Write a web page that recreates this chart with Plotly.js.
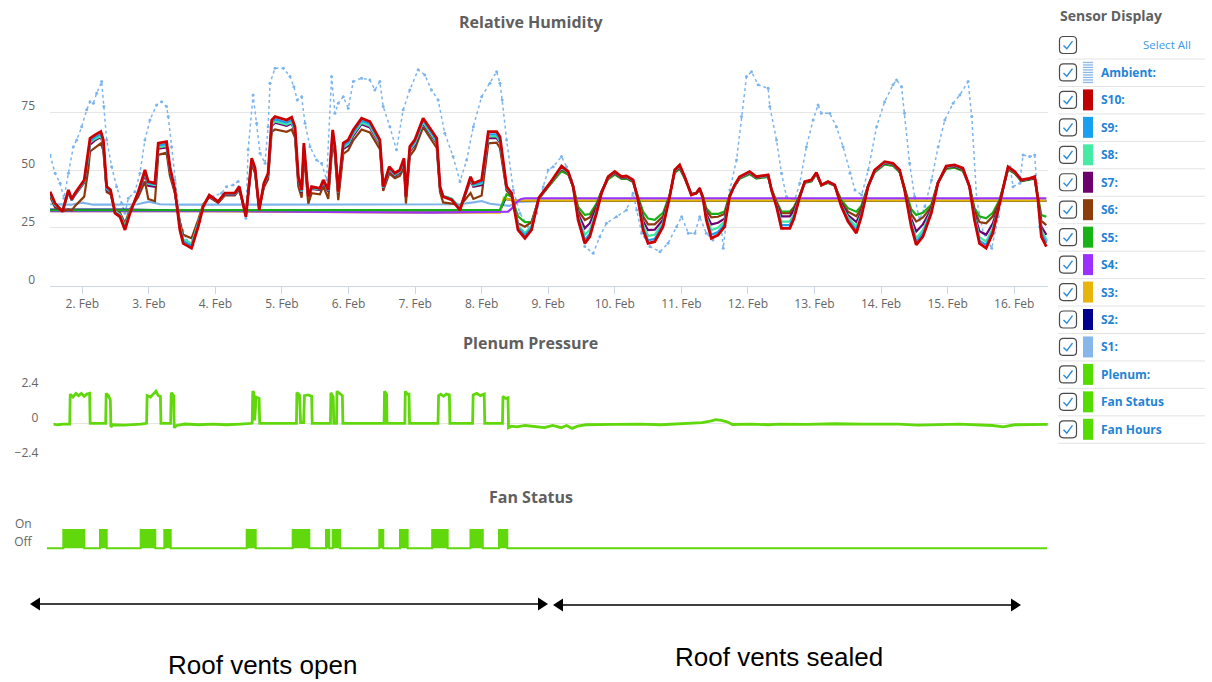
<!DOCTYPE html>
<html>
<head>
<meta charset="utf-8">
<script src="https://cdn.plot.ly/plotly-3.0.1.min.js"></script>
<style>
  html, body { margin: 0; padding: 0; background: #ffffff; }
  #chart { width: 1212px; height: 682px; }
</style>
</head>
<body>
<div id="chart"></div>
<script>
// ---------------- DATA (hours since 1 Feb 00:00) ----------------
const rhHours = [
  12.4, 14.2, 16.9, 19.0, 20.2, 21.4, 24.7, 26.2, 26.8, 28.6,
  30.7, 31.6, 32.8, 34.2, 35.8, 37.6, 39.4, 41.2, 44.2, 46.6,
  47.8, 50.2, 51.4, 54.4, 55.6, 57.4, 59.2, 60.4, 63.4, 65.8,
  67.6, 69.8, 73.0, 75.4, 79.0, 80.6, 83.0, 85.1, 86.3, 87.8,
  89.5, 91.0, 92.3, 93.5, 97.7, 99.5, 100.7, 101.9, 103.1, 103.9,
  105.5, 106.7, 109.7, 110.9, 112.7, 114.3, 115.1, 116.3, 118.1, 119.9,
  121.7, 124.7, 127.7, 131.3, 132.5, 134.7, 136.7, 138.5, 140.0, 140.7,
  142.1, 143.9, 146.9, 151.8, 153.0, 154.1, 157.2, 160.2, 164.0, 165.0,
  168.0, 170.4, 173.4, 174.6, 177.0, 178.8, 181.1, 183.6, 186.0, 188.6,
  192.6, 196.8, 199.2, 201.0, 202.8, 205.2, 207.0, 209.4, 211.2, 213.6,
  216.0, 218.4, 220.2, 222.6, 224.4, 226.2, 228.0, 230.4, 233.4, 235.8,
  237.6, 239.4, 241.2, 243.6, 245.4, 246.6, 247.8, 249.0, 250.8, 253.2,
  255.6, 257.4, 259.2, 261.0, 264.6, 267.0, 271.3, 272.5, 274.3, 276.1,
  279.1, 280.6, 282.7, 284.5, 286.9, 288.7, 290.5, 292.9, 295.3, 297.7,
  300.1, 303.1, 304.9, 307.3, 309.7, 313.3, 316.3, 318.7, 320.5, 322.9,
  324.7, 327.1, 330.1, 332.5, 335.5, 338.5, 341.5, 343.9, 345.7, 347.5,
  349.9, 352.3, 354.7, 357.8, 360.2, 362.6, 365.6, 367.4, 368.6, 369.8,
  371.6
];

const s10 = [
  40.6, 35.6, 32, 41.4, 37.4, 40, 45.7, 57.2, 63.7, 65.2,
  66.6, 63, 42.8, 41.4, 31.3, 29.8, 24.1, 31.3, 40.6, 50,
  45, 44.3, 61.6, 62.3, 51.4, 41.4, 24.1, 18.3, 16.2, 25.5,
  34.2, 39.2, 36.3, 40, 40, 42.8, 29.8, 55.1, 50.8, 32.7,
  44.3, 48.6, 71.6, 73.1, 71.6, 72.8, 68.7, 47.1, 41.4, 61.6,
  38.5, 42.8, 42.1, 45.7, 41.4, 67.3, 60.1, 40.6, 61.6, 63,
  67.3, 72.4, 70.9, 63, 42.8, 51.4, 48.6, 50, 55.1, 38.5,
  60.1, 63, 72.4, 63.7, 42.8, 38.5, 37.1, 32.7, 47.1, 44.3,
  45.7, 66.6, 66.6, 64.4, 42.8, 40, 24.1, 20.5, 24.1, 38,
  44.3, 51.7, 49.3, 42.8, 28.4, 18.3, 21.2, 31.3, 40, 47.1,
  49.3, 47.1, 47.4, 45.7, 37, 24.1, 18.3, 19, 25.5, 38.5,
  50, 52.2, 47.1, 39.2, 40, 42.1, 37.8, 28.4, 20.5, 21.9,
  25.5, 38.5, 43.5, 47.1, 49.3, 47.1, 47.9, 41.4, 34.2, 24.8,
  24.8, 29, 38.5, 45, 45.7, 48.9, 43.5, 45, 43.5, 34.2,
  27.7, 22.7, 29.8, 42.8, 50, 53.6, 52.9, 50, 41.4, 25.5,
  17.6, 21.2, 31.3, 44.3, 51.7, 52.2, 50.8, 42.8, 28.4, 18.3,
  16.2, 22.7, 34.9, 51.4, 49.3, 45.7, 46.4, 47.1, 37, 21.2,
  16.9
];

const s9 = [
  40.2, 35.2, 32.4, 41, 37.2, 39.8, 45.3, 56.2, 62.5, 64.2,
  65.5, 62, 42.2, 41, 31.8, 30.3, 25, 31.8, 40.3, 49.4,
  44.5, 43.9, 60.6, 61.2, 50.8, 41.2, 25, 19.2, 17.2, 26.3,
  34.5, 39, 36.3, 39.8, 39.8, 42.5, 30.3, 54.6, 50.4, 33,
  44, 48.2, 70.5, 71.9, 70.5, 71.6, 67.6, 46.5, 41, 60.5,
  38.6, 42.5, 41.9, 45.3, 41.2, 66.3, 59.3, 40.5, 60.6, 62,
  66.3, 71.3, 69.9, 62.2, 42.6, 50.8, 48.2, 49.6, 54.4, 38.7,
  59.3, 62.2, 71.4, 62.8, 42.5, 38.6, 37.4, 33.3, 46.5, 43.8,
  44.8, 65.4, 65.4, 63.2, 42.4, 39.8, 25.2, 21.8, 25, 38,
  44.2, 51.4, 49.1, 42.7, 29.2, 19.8, 22.5, 31.8, 40, 47,
  49.1, 47, 47.2, 45.5, 37.2, 25, 19.6, 20.3, 26.3, 38.6,
  49.8, 51.9, 47, 39.3, 40, 42, 37.9, 29, 22, 23.2,
  26.5, 38.6, 43.4, 46.9, 49.1, 47, 47.7, 41.4, 34.6, 26.2,
  26.2, 30, 38.6, 44.9, 45.6, 48.8, 43.5, 44.9, 43.5, 34.4,
  28.5, 24, 30.5, 42.8, 49.8, 53.4, 52.7, 49.8, 41.5, 26.3,
  19, 22.5, 31.8, 44.3, 51.5, 52, 50.6, 42.8, 29.2, 19.5,
  17.6, 23.8, 35, 51.2, 49.2, 45.6, 46.3, 46.9, 37.2, 22.8,
  18.5
];

const s8 = [
  39.8, 34.8, 32.8, 40.6, 37, 39.5, 45, 55.5, 61.8, 63.4,
  64.7, 61.2, 41.8, 40.7, 32.3, 30.8, 25.8, 32.3, 40, 48.8,
  44, 43.5, 59.8, 60.4, 50.2, 41, 25.8, 20, 18.2, 27,
  34.8, 38.8, 36.2, 39.6, 39.6, 42.2, 30.7, 54.2, 50, 33.4,
  43.7, 47.8, 69.6, 71, 69.6, 70.6, 66.7, 46, 40.6, 59.7,
  38.8, 42.2, 41.7, 45, 41, 65.5, 58.7, 40.3, 59.8, 61.2,
  65.5, 70.4, 69, 61.5, 42.4, 50.4, 47.9, 49.2, 53.8, 38.9,
  58.6, 61.5, 70.6, 62, 42.2, 38.8, 37.7, 33.8, 46, 43.3,
  44.2, 64.5, 64.5, 62.4, 42.1, 39.6, 26, 22.8, 25.8, 38,
  44.1, 51, 48.8, 42.6, 30, 21.9, 24.2, 32.5, 40.2, 46.9,
  48.9, 46.8, 47, 45.3, 37.4, 26.5, 21.5, 22, 27.3, 38.7,
  49.6, 51.6, 46.9, 39.4, 40, 41.9, 38, 30, 24, 25,
  27.8, 38.7, 43.3, 46.7, 48.9, 46.8, 47.5, 41.4, 35, 27.7,
  27.7, 31, 38.7, 44.8, 45.5, 48.7, 43.5, 44.8, 43.4, 34.8,
  29.5, 25.5, 31, 42.8, 49.6, 53.2, 52.5, 49.6, 41.6, 27.5,
  20.5, 24, 32.3, 44.3, 51.3, 51.8, 50.4, 42.8, 30, 21,
  19, 25, 35.2, 51, 49, 45.5, 46.2, 46.8, 37.4, 24,
  20
];

const s7 = [
  39.5, 34.5, 32.6, 40.2, 36.8, 39.2, 44.6, 54.8, 61, 62.8,
  64.2, 60.6, 41.4, 40.3, 32, 30.5, 25.5, 32, 39.6, 48,
  43.2, 42.8, 59.2, 59.8, 49.5, 40.6, 25.5, 19.6, 17.8, 26.6,
  34.6, 38.6, 36, 39.4, 39.4, 42, 30.5, 53.8, 49.6, 33.2,
  43.4, 47.4, 69, 70.4, 69.1, 70.1, 66.2, 45.5, 40.2, 59,
  38.6, 41.8, 41.3, 44.5, 40.6, 64.8, 58, 40, 59, 60.5,
  64.8, 69.8, 68.4, 61, 42.1, 50, 47.5, 48.8, 53.2, 38.6,
  58, 60.9, 70, 61.5, 41.9, 38.6, 37.5, 33.5, 45.4, 42.8,
  43.5, 63.8, 63.8, 61.8, 41.8, 39.3, 25.6, 22.3, 25.3, 37.8,
  44, 50.8, 48.6, 42.6, 31, 24.8, 27, 33.5, 40.4, 46.8,
  48.7, 46.6, 46.8, 45.1, 37.6, 28, 24, 24.2, 28.5, 38.8,
  49.4, 51.4, 46.8, 39.5, 40, 41.8, 38.2, 31, 26.5, 27.2,
  29, 38.8, 43.2, 46.6, 48.8, 46.7, 47.4, 41.5, 35.5, 30,
  30, 32.5, 38.8, 44.7, 45.4, 48.6, 43.5, 44.7, 43.4, 35.5,
  30.5, 27.5, 32, 42.9, 49.5, 53, 52.4, 49.5, 41.8, 29,
  23.4, 26.5, 33, 44.4, 51.1, 51.6, 50.2, 42.9, 31, 23.5,
  22, 27, 35.5, 50.8, 48.9, 45.4, 46.1, 46.7, 37.6, 25.5,
  22
];

const s6 = [
  38.5, 33.8, 32.3, 33, 32.5, 34.5, 38.5, 50.5, 58, 59.8,
  61.5, 58.5, 40.5, 39.5, 32.5, 31.5, 27, 33, 38.5, 45,
  37.5, 36.5, 56.5, 57.5, 47.5, 40, 27.5, 22, 20.5, 28.5,
  35.2, 38.2, 35.8, 39, 39, 41.5, 31.2, 52.5, 48.5, 33.8,
  42.5, 46, 66.5, 67.5, 66.5, 67.5, 64, 43, 38, 56.5,
  35.5, 40, 39.5, 43, 37.5, 62.5, 56, 37, 57, 58.5,
  62.8, 67.5, 66.2, 59, 41, 48.5, 46.5, 47.5, 51, 35.5,
  56, 59, 68.5, 59.5, 40.5, 36, 35.5, 34.5, 40, 37.5,
  39, 61.5, 61.8, 59.5, 41, 38.8, 27, 25.5, 27.5, 37.6,
  43.8, 50.5, 48.4, 42.8, 32.5, 28.4, 29.5, 34.5, 40.6, 46.6,
  48.5, 46.5, 46.6, 45, 37.9, 30, 26.5, 26.5, 30, 38.9,
  49.2, 51.1, 46.6, 39.6, 40, 41.7, 38.4, 32.5, 29.5, 29.8,
  31, 39, 43.1, 46.5, 48.6, 46.6, 47.2, 41.6, 36, 31.3,
  31.3, 33.5, 39, 44.6, 45.3, 48.5, 43.5, 44.6, 43.3, 36.2,
  32, 30, 33.5, 43, 49.3, 52.8, 52.2, 49.3, 42, 31,
  27.7, 29.5, 34, 44.5, 50.9, 51.4, 50, 43, 32.5, 27.5,
  27, 30, 36.2, 50.6, 48.8, 45.3, 46, 46.5, 38, 28,
  26.2
];

const s5 = [
  32.6, 32.6, 32.6, 32.6, 32.6, 32.6, 32.6, 32.6, 32.6, 32.6,
  32.6, 32.6, 32.6, 32.6, 32.6, 32.6, 32.6, 32.6, 32.6, 32.6,
  32.6, 32.6, 32.6, 32.6, 32.6, 32.6, 32.6, 32.6, 32.6, 32.6,
  32.7, 32.7, 32.7, 32.7, 32.7, 32.7, 32.7, 32.7, 32.7, 32.7,
  32.7, 32.7, 32.7, 32.7, 32.7, 32.7, 32.7, 32.7, 32.7, 32.7,
  32.7, 32.7, 32.7, 32.7, 32.7, 32.7, 32.7, 32.7, 32.7, 32.7,
  32.8, 32.8, 32.8, 32.8, 32.8, 32.8, 32.8, 32.8, 32.8, 32.8,
  32.8, 32.8, 32.8, 32.8, 32.8, 32.8, 32.8, 32.8, 32.8, 32.8,
  32.8, 32.8, 32.8, 32.8, 39.5, 38.5, 30, 27.5, 27.5, 37.5,
  43.5, 49.5, 48, 43, 34, 30.6, 31, 35.5, 40.8, 46,
  48, 46.2, 46.3, 44.8, 38.5, 32, 29, 28.5, 31.5, 39.2,
  48.8, 50.5, 46.3, 39.7, 40, 41.5, 38.6, 33.5, 31, 31,
  32, 39.2, 43, 46.2, 48.2, 46.3, 47, 41.8, 36.5, 32,
  32, 34, 39.2, 44.4, 45, 48.2, 43.4, 44.4, 43.2, 37,
  33.5, 32, 34.5, 43, 49, 52.4, 51.8, 49, 42.3, 33,
  30.6, 31.5, 35, 44.6, 50.5, 51, 49.6, 43.2, 33.5, 30,
  29.1, 31.5, 37, 50.2, 48.5, 45.1, 45.8, 46.3, 38.5, 30.5,
  29.8
];

const s4Hours = [12.4, 80, 150, 174.6, 177.5, 179.0, 180.5, 182.0, 183.5, 250, 371.6];
const s4 = [32.2, 32.2, 31.6, 31.7, 32, 33.5, 36, 37.4, 37.8, 37.8, 37.8];

const s3Hours = [12.4, 60, 150, 174.6, 176.0, 178.0, 181.0, 371.6];
const s3 = [32.2, 32.2, 31.6, 31.6, 38, 37.2, 36.8, 36.8];

const s2Hours = [12.4, 40, 60, 150, 174.6, 176.5, 178.5, 181.0, 371.6];
const s2 = [32.9, 32.9, 32.5, 32.5, 32.4, 37.5, 37, 36.7, 36.7];

const s1Hours = [12.4, 20, 24, 28, 36, 44, 48, 52, 60, 100, 140, 160, 165, 168, 171, 175, 178, 181, 190, 250, 300, 371.6];
const s1 = [35.2, 35, 35.9, 35, 35, 35.2, 36.3, 35.2, 35, 35, 35, 35.2, 36, 36.6, 35.4, 35, 34.5, 36.2, 36.6, 36.6, 36.6, 36.6];

const ambientHours = [
  12.4, 14.2, 16.0, 17.4, 19.0, 20.8, 22.0, 23.8, 25.6, 26.8,
  28.0, 29.2, 31.0, 31.8, 32.8, 34.6, 36.4, 38.2, 39.4, 40.6,
  43.0, 44.8, 46.6, 48.4, 50.8, 52.6, 54.4, 55.0, 56.2, 57.4,
  59.2, 61.6, 64.0, 66.4, 68.8, 71.2, 74.2, 76.0, 78.4, 80.2,
  80.9, 83.0, 83.8, 85.6, 86.9, 88.1, 89.9, 91.0, 91.7, 93.5,
  96.5, 98.9, 100.3, 101.5, 103.1, 104.3, 106.1, 108.5, 110.3, 112.1,
  113.9, 115.1, 116.3, 118.1, 119.9, 121.7, 124.7, 127.7, 129.5, 131.3,
  132.5, 134.9, 137.3, 139.7, 142.1, 145.1, 147.5, 149.9, 152.3, 154.7,
  157.7, 160.2, 162.6, 165.0, 168.0, 171.0, 173.4, 174.6, 175.4, 177.0,
  179.4, 181.8, 184.8, 187.8, 190.2, 192.0, 193.8, 196.8, 198.6, 200.4,
  202.8, 205.2, 208.2, 210.6, 213.0, 216.6, 220.2, 222.6, 223.9, 225.7,
  228.7, 232.3, 235.2, 238.3, 240.1, 242.5, 244.9, 246.6, 249.0, 251.4,
  254.5, 255.1, 257.5, 259.9, 261.7, 263.5, 265.3, 267.7, 271.3, 271.9,
  274.3, 276.1, 277.9, 280.3, 281.0, 282.7, 285.1, 287.5, 289.3, 290.5,
  293.5, 295.9, 298.3, 300.8, 302.6, 305.0, 307.4, 310.4, 313.3, 316.3,
  317.6, 319.4, 320.5, 322.3, 324.1, 325.9, 327.8, 330.2, 332.6, 335.0,
  338.0, 340.4, 343.4, 344.7, 346.5, 348.9, 351.9, 354.3, 356.7, 358.5,
  359.6, 362.0, 363.2, 365.6, 367.4, 368.2, 369.2, 371.6
];
const ambient = [
  56.5, 48.6, 44.3, 37.8, 48.6, 60.1, 63, 68.7, 76, 79.5,
  78.9, 83.2, 88.2, 77.4, 63, 51.4, 42.8, 35.6, 31.3, 37.8,
  40.6, 48.6, 63, 71.6, 78.1, 79.5, 77.4, 73.1, 60.1, 45.7,
  28.4, 19.8, 17.6, 27.7, 37, 38.5, 40, 42.8, 43.5, 45,
  40, 29.1, 58.7, 82.4, 70.2, 57.2, 52.9, 68.7, 87.5, 94,
  94, 90.4, 86, 80.3, 81.7, 70.2, 60.1, 54.3, 52.9, 45.7,
  90.4, 74.5, 78.9, 81.7, 76.7, 88.2, 89.7, 88.9, 84.6, 88.2,
  77.4, 68.7, 58.7, 76, 84.6, 93.3, 91.1, 84.6, 80.3, 65.9,
  55.8, 45, 54.3, 68.7, 81.7, 87.5, 92.5, 87.5, 80.3, 63,
  41.4, 31.3, 25.5, 31.3, 42.8, 50, 51.4, 55.8, 51.4, 45.7,
  28.4, 16.9, 14, 21.2, 27, 29.8, 32.7, 40, 32.7, 22.7,
  16.9, 14.7, 18.3, 25.5, 29.8, 22.7, 22.7, 29.8, 22.7, 19.8,
  24.1, 16.2, 41.4, 54.3, 73.1, 90.4, 92.5, 86.8, 85.3, 77.4,
  63, 48.6, 38.5, 37, 37.6, 44.3, 60.1, 71.6, 78.1, 74.5,
  74.5, 68.7, 60.1, 48.6, 41.4, 39.2, 50, 68.7, 79.5, 86.8,
  88.9, 86, 74.5, 52.9, 38.5, 28.4, 34.2, 45.7, 60.1, 71.6,
  78.9, 82.4, 88.2, 73.1, 37, 22.7, 16.2, 29.8, 45.7, 51.4,
  42.8, 44.3, 56.5, 55.8, 56.5, 44.3, 25.5, 19.8
];

const plenumHours = [
  12.4, 14, 16, 18.3, 18.5, 19.5, 20.5, 21.5, 22.5, 23.5,
  24.5, 25.5, 25.7, 28, 31.3, 31.5, 32.3, 33.0, 33.2, 34.0,
  38, 44, 46.1, 46.3, 47.5, 48.5, 49.5, 50.3, 51.1, 51.3,
  54.8, 55.0, 55.9, 56.1, 57.0, 60, 65, 70, 75, 80,
  84.3, 84.5, 84.9, 85.2, 85.7, 86.8, 87.0, 92, 100.3, 100.45,
  101.4, 101.8, 102.9, 103.2, 104.5, 105.8, 106.0, 109, 112.6, 112.75,
  113.6, 113.8, 114.8, 114.95, 116.0, 116.9, 117.1, 125, 132.0, 132.15,
  132.9, 133.05, 136, 139.5, 139.65, 140.4, 141.0, 141.2, 146, 151.5,
  151.7, 152.5, 153.5, 154.5, 155.6, 155.8, 160, 164.0, 164.2, 165.5,
  166.8, 168.2, 168.4, 172, 174.8, 175.0, 176.0, 176.8, 177.0, 178,
  180, 183, 186, 190, 193, 196, 198, 200, 202, 205,
  215, 225, 232, 240, 247, 250, 252, 254, 256, 258,
  265, 271, 275, 285, 295, 305, 318, 325, 330, 340,
  352, 356, 360, 372
];
const plenum = [
  -0.05, -0.1, -0.05, -0.05, 2.0, 1.8, 2.05, 1.9, 2.05, 1.85,
  2.0, 2.05, 0, -0.02, 0, 2.05, 1.9, 1.6, -0.25, -0.1,
  -0.12, -0.05, 0, 1.9, 1.8, 2.0, 2.2, 1.9, 1.85, 0,
  0, 2.1, 1.9, -0.3, -0.15, -0.05, -0.1, -0.05, -0.1, -0.05,
  0, 2.2, 2.1, 0.2, 1.8, 1.7, 0, 0, 0, 2.1,
  1.95, 0.05, 0.05, 1.9, 1.95, 1.85, 0, 0, 0, 2.1,
  1.8, 0, 0, 2.2, 2.0, 1.9, 0, 0, 0, 2.2,
  2.0, 0, 0, 0, 2.2, 2.0, 2.0, 0, 0, 0,
  1.9, 2.0, 1.85, 2.0, 1.95, 0, 0, 0, 1.95, 2.05,
  1.9, 2.0, 0, 0, 0, 1.85, 1.7, 1.75, -0.3, -0.2,
  -0.25, -0.15, -0.2, -0.3, -0.15, -0.3, -0.15, -0.35, -0.2, -0.1,
  -0.08, -0.05, -0.1, -0.03, 0.05, 0.15, 0.25, 0.2, 0.1, -0.08,
  -0.05, -0.1, -0.05, -0.08, -0.03, -0.06, -0.05, -0.12, -0.08, -0.05,
  -0.15, -0.25, -0.1, -0.08
];

const fanHours = [12.37, 18.34, 25.89, 31.54, 33.95, 46.17, 51.42, 54.66, 56.96, 84.29,
  87.53, 100.83, 106.8, 112.8, 113.99, 115.21, 117.84, 131.97, 133.41, 139.41,
  142.18, 151.0, 156.57, 164.77, 169.19, 175.01, 178.0, 372.1];
const fanState = [0, 1, 0, 1, 0, 1, 0, 1, 0, 1,
  0, 1, 0, 1, 0, 1, 0, 1, 0, 1,
  0, 1, 0, 1, 0, 1, 0, 0];

const rhTickVals = [0, 25, 50, 75, 100];
const rhTickText = ['0', '25', '50', '75', ''];
const plenumTickVals = [-2.4, 0, 2.4];
const plenumTickText = ['\u22122.4', '0', '2.4'];
const fanTickVals = [0, 1];
const fanTickText = ['Off', 'On'];

const legendLabels = ['Ambient:', 'S10:', 'S9:', 'S8:', 'S7:', 'S6:', 'S5:', 'S4:', 'S3:', 'S2:', 'S1:', 'Plenum:', 'Fan Status', 'Fan Hours'];
const legendColors = ['#8ab8ea', '#c00000', '#1aa0f0', '#45eba5', '#6e006e', '#8b3d0b', '#17b317', '#9b30ff', '#e8b50c', '#000090', '#86b6ea', '#55dd00', '#55dd00', '#55dd00'];

// ---------------- helpers ----------------
function stamp(h) {
  const totalMin = Math.round(h * 60);
  const d = Math.floor(totalMin / 1440);
  const rem = totalMin - d * 1440;
  const hh = Math.floor(rem / 60), mm = rem % 60;
  const p = n => String(n).padStart(2, '0');
  return '2021-02-' + p(1 + d) + ' ' + p(hh) + ':' + p(mm);
}
const dates = arr => arr.map(stamp);

const W = 1212, H = 682;
const px = x => x / W;
const py = y => 1 - y / H;

const C = {
  s10: '#cc0000', s9: '#1a9ff0', s8: '#3fe8a0', s7: '#720072', s6: '#8b3a0b',
  s5: '#16b016', s4: '#9b30ff', s3: '#e6b400', s2: '#00008b', s1: '#7fb3ea',
  amb: '#7cb5ec', green: '#60d80c'
};

function sensor(h, y, color, width) {
  return { x: dates(h), y: y, type: 'scatter', mode: 'lines', xaxis: 'x', yaxis: 'y',
    line: { color: color, width: width || 2.2 }, hoverinfo: 'skip' };
}

const traces = [
  { x: dates(ambientHours), y: ambient, type: 'scatter', mode: 'lines+markers', xaxis: 'x', yaxis: 'y',
    line: { color: C.amb, width: 1.5, dash: 'dot' }, marker: { size: 3, color: C.amb } },
  sensor(s1Hours, s1, C.s1),
  sensor(s2Hours, s2, C.s2),
  sensor(s3Hours, s3, C.s3),
  sensor(s4Hours, s4, C.s4),
  sensor(rhHours, s5, C.s5),
  sensor(rhHours, s6, C.s6),
  sensor(rhHours, s7, C.s7),
  sensor(rhHours, s8, C.s8),
  sensor(rhHours, s9, C.s9),
  sensor(rhHours, s10, C.s10, 2.8),
  { x: dates(plenumHours), y: plenum, type: 'scatter', mode: 'lines', xaxis: 'x2', yaxis: 'y2',
    line: { color: C.green, width: 2.8 } },
  { x: dates(fanHours), y: fanState, type: 'scatter', mode: 'lines', xaxis: 'x3', yaxis: 'y3',
    line: { color: C.green, width: 2, shape: 'hv' }, fill: 'tozeroy', fillcolor: C.green }
];

const xRange = [stamp(12.37), stamp(372.2)];
const axisFont = { family: 'Open Sans', size: 12, color: '#666666' };

const shapes = [];
const annotations = [];

// titles
function title(text, x, y, size) {
  annotations.push({ text: '<b>' + text + '</b>', xref: 'paper', yref: 'paper', x: px(x), y: py(y),
    xanchor: 'center', yanchor: 'middle', showarrow: false,
    font: { family: 'Open Sans', size: size, color: '#5f5f5f' } });
}
title('Relative Humidity', 530.5, 22, 16);
title('Plenum Pressure', 530.5, 343, 16);
title('Fan Status', 531, 497, 16);

// sensor display panel
annotations.push({ text: '<b>Sensor Display</b>', xref: 'paper', yref: 'paper', x: px(1058), y: py(16),
  xanchor: 'left', yanchor: 'middle', showarrow: false, font: { family: 'Open Sans', size: 14, color: '#5f5f5f' } });

function roundRectPath(x, y, w, h, r) {
  return 'M' + px(x + r) + ',' + py(y) + ' L' + px(x + w - r) + ',' + py(y) +
    ' Q' + px(x + w) + ',' + py(y) + ' ' + px(x + w) + ',' + py(y + r) +
    ' L' + px(x + w) + ',' + py(y + h - r) +
    ' Q' + px(x + w) + ',' + py(y + h) + ' ' + px(x + w - r) + ',' + py(y + h) +
    ' L' + px(x + r) + ',' + py(y + h) +
    ' Q' + px(x) + ',' + py(y + h) + ' ' + px(x) + ',' + py(y + h - r) +
    ' L' + px(x) + ',' + py(y + r) +
    ' Q' + px(x) + ',' + py(y) + ' ' + px(x + r) + ',' + py(y) + ' Z';
}
function checkbox(cy) {
  const x = 1059.5, y = cy - 8.5;
  shapes.push({ type: 'path', xref: 'paper', yref: 'paper', path: roundRectPath(x, y, 17, 17, 4),
    line: { color: '#4a4a4a', width: 1.2 }, fillcolor: 'rgba(0,0,0,0)' });
  shapes.push({ type: 'path', xref: 'paper', yref: 'paper',
    path: 'M' + px(x + 4) + ',' + py(y + 9) + ' L' + px(x + 7.3) + ',' + py(y + 12.3) + ' L' + px(x + 13) + ',' + py(y + 4.6),
    line: { color: '#2a8ad6', width: 1.4 } });
}
const rowY = i => 45 + i * 27.45;
for (let i = 0; i < 15; i++) {
  const cy = rowY(i);
  checkbox(cy);
  shapes.push({ type: 'line', xref: 'paper', yref: 'paper', x0: px(1058), x1: px(1205), y0: py(cy + 14), y1: py(cy + 14),
    line: { color: '#e3e3e3', width: 1 } });
}
annotations.push({ text: 'Select All', xref: 'paper', yref: 'paper', x: px(1193), y: py(rowY(0)),
  xanchor: 'right', yanchor: 'middle', showarrow: false, font: { family: 'Open Sans', size: 11.5, color: '#3d9ae6' } });
legendLabels.forEach((lab, k) => {
  const cy = rowY(k + 1);
  if (k === 0) {
    for (let j = 0; j < 9; j++) {
      const yy = cy - 10 + j * 2.5;
      shapes.push({ type: 'line', xref: 'paper', yref: 'paper', x0: px(1083), x1: px(1093), y0: py(yy), y1: py(yy),
        line: { color: legendColors[k], width: 1.3 } });
    }
  } else {
    shapes.push({ type: 'rect', xref: 'paper', yref: 'paper', x0: px(1083), x1: px(1093), y0: py(cy + 10.5), y1: py(cy - 10.5),
      fillcolor: legendColors[k], line: { width: 0 } });
  }
  annotations.push({ text: '<b>' + lab + '</b>', xref: 'paper', yref: 'paper', x: px(1098.5), y: py(cy),
    xanchor: 'left', yanchor: 'middle', showarrow: false, font: { family: 'Open Sans', size: 12, color: '#1f84d6' } });
});

// double-headed arrows
function dblArrow(x0, x1, y) {
  shapes.push({ type: 'line', xref: 'paper', yref: 'paper', x0: px(x0 + 4), x1: px(x1 - 4), y0: py(y), y1: py(y),
    line: { color: '#000000', width: 1.6 } });
  shapes.push({ type: 'path', xref: 'paper', yref: 'paper',
    path: 'M' + px(x0) + ',' + py(y) + ' L' + px(x0 + 10) + ',' + py(y - 6.5) + ' L' + px(x0 + 10) + ',' + py(y + 6.5) + ' Z',
    fillcolor: '#000000', line: { width: 0 } });
  shapes.push({ type: 'path', xref: 'paper', yref: 'paper',
    path: 'M' + px(x1) + ',' + py(y) + ' L' + px(x1 - 10) + ',' + py(y - 6.5) + ' L' + px(x1 - 10) + ',' + py(y + 6.5) + ' Z',
    fillcolor: '#000000', line: { width: 0 } });
}
dblArrow(30, 548, 604);
dblArrow(553, 1021, 605);
annotations.push({ text: 'Roof vents open', xref: 'paper', yref: 'paper', x: px(262), y: py(665),
  xanchor: 'center', yanchor: 'middle', showarrow: false, font: { family: 'Liberation Sans', size: 26, color: '#000000' } });
annotations.push({ text: 'Roof vents sealed', xref: 'paper', yref: 'paper', x: px(779), y: py(657),
  xanchor: 'center', yanchor: 'middle', showarrow: false, font: { family: 'Liberation Sans', size: 26, color: '#000000' } });

const layout = {
  width: W, height: H,
  margin: { l: 0, r: 0, t: 0, b: 0, pad: 0 },
  paper_bgcolor: '#ffffff', plot_bgcolor: 'rgba(0,0,0,0)',
  showlegend: false,
  font: { family: 'Open Sans', color: '#666666' },
  xaxis: {
    type: 'date', domain: [px(50), px(1048)], anchor: 'y', range: xRange,
    tickmode: 'linear', tick0: '2021-02-02', dtick: 86400000, tickformat: '%-d. %b',
    showgrid: false, zeroline: false, showline: true, linecolor: '#ccd6eb', linewidth: 1,
    ticks: 'outside', ticklen: 7, tickcolor: '#ccd6eb', tickwidth: 1,
    tickfont: axisFont
  },
  yaxis: {
    domain: [py(285.7), py(54.3)], anchor: 'x', range: [0, 100],
    tickmode: 'array', tickvals: rhTickVals, ticktext: rhTickText,
    showgrid: true, gridcolor: '#e6e6e6', gridwidth: 1, zeroline: false, showline: false,
    ticks: '', ticklabelstandoff: 14, ticklabelshift: -6, tickfont: axisFont
  },
  xaxis2: {
    type: 'date', domain: [px(53.3), px(1048.3)], anchor: 'y2', range: xRange,
    showgrid: false, zeroline: false, showline: false, showticklabels: false, ticks: ''
  },
  yaxis2: {
    domain: [py(458.3), py(388.3)], anchor: 'x2', range: [-2.4, 2.4],
    tickmode: 'array', tickvals: plenumTickVals, ticktext: plenumTickText,
    showgrid: true, gridcolor: '#e6e6e6', zeroline: false, showline: false,
    ticks: '', ticklabelstandoff: 14, ticklabelshift: -6, tickfont: axisFont
  },
  xaxis3: {
    type: 'date', domain: [px(46.7), px(1047.3)], anchor: 'y3', range: xRange,
    showgrid: false, zeroline: false, showline: false, showticklabels: false, ticks: ''
  },
  yaxis3: {
    domain: [py(550.1), py(528.2)], anchor: 'x3', range: [-0.1, 1.1],
    tickmode: 'array', tickvals: fanTickVals, ticktext: fanTickText,
    showgrid: false, zeroline: false, showline: false,
    ticks: '', ticklabelstandoff: 14, ticklabelshift: -6, tickfont: axisFont
  },
  shapes: shapes,
  annotations: annotations
};

Plotly.newPlot('chart', traces, layout, { staticPlot: true, displayModeBar: false });
</script>
</body>
</html>
